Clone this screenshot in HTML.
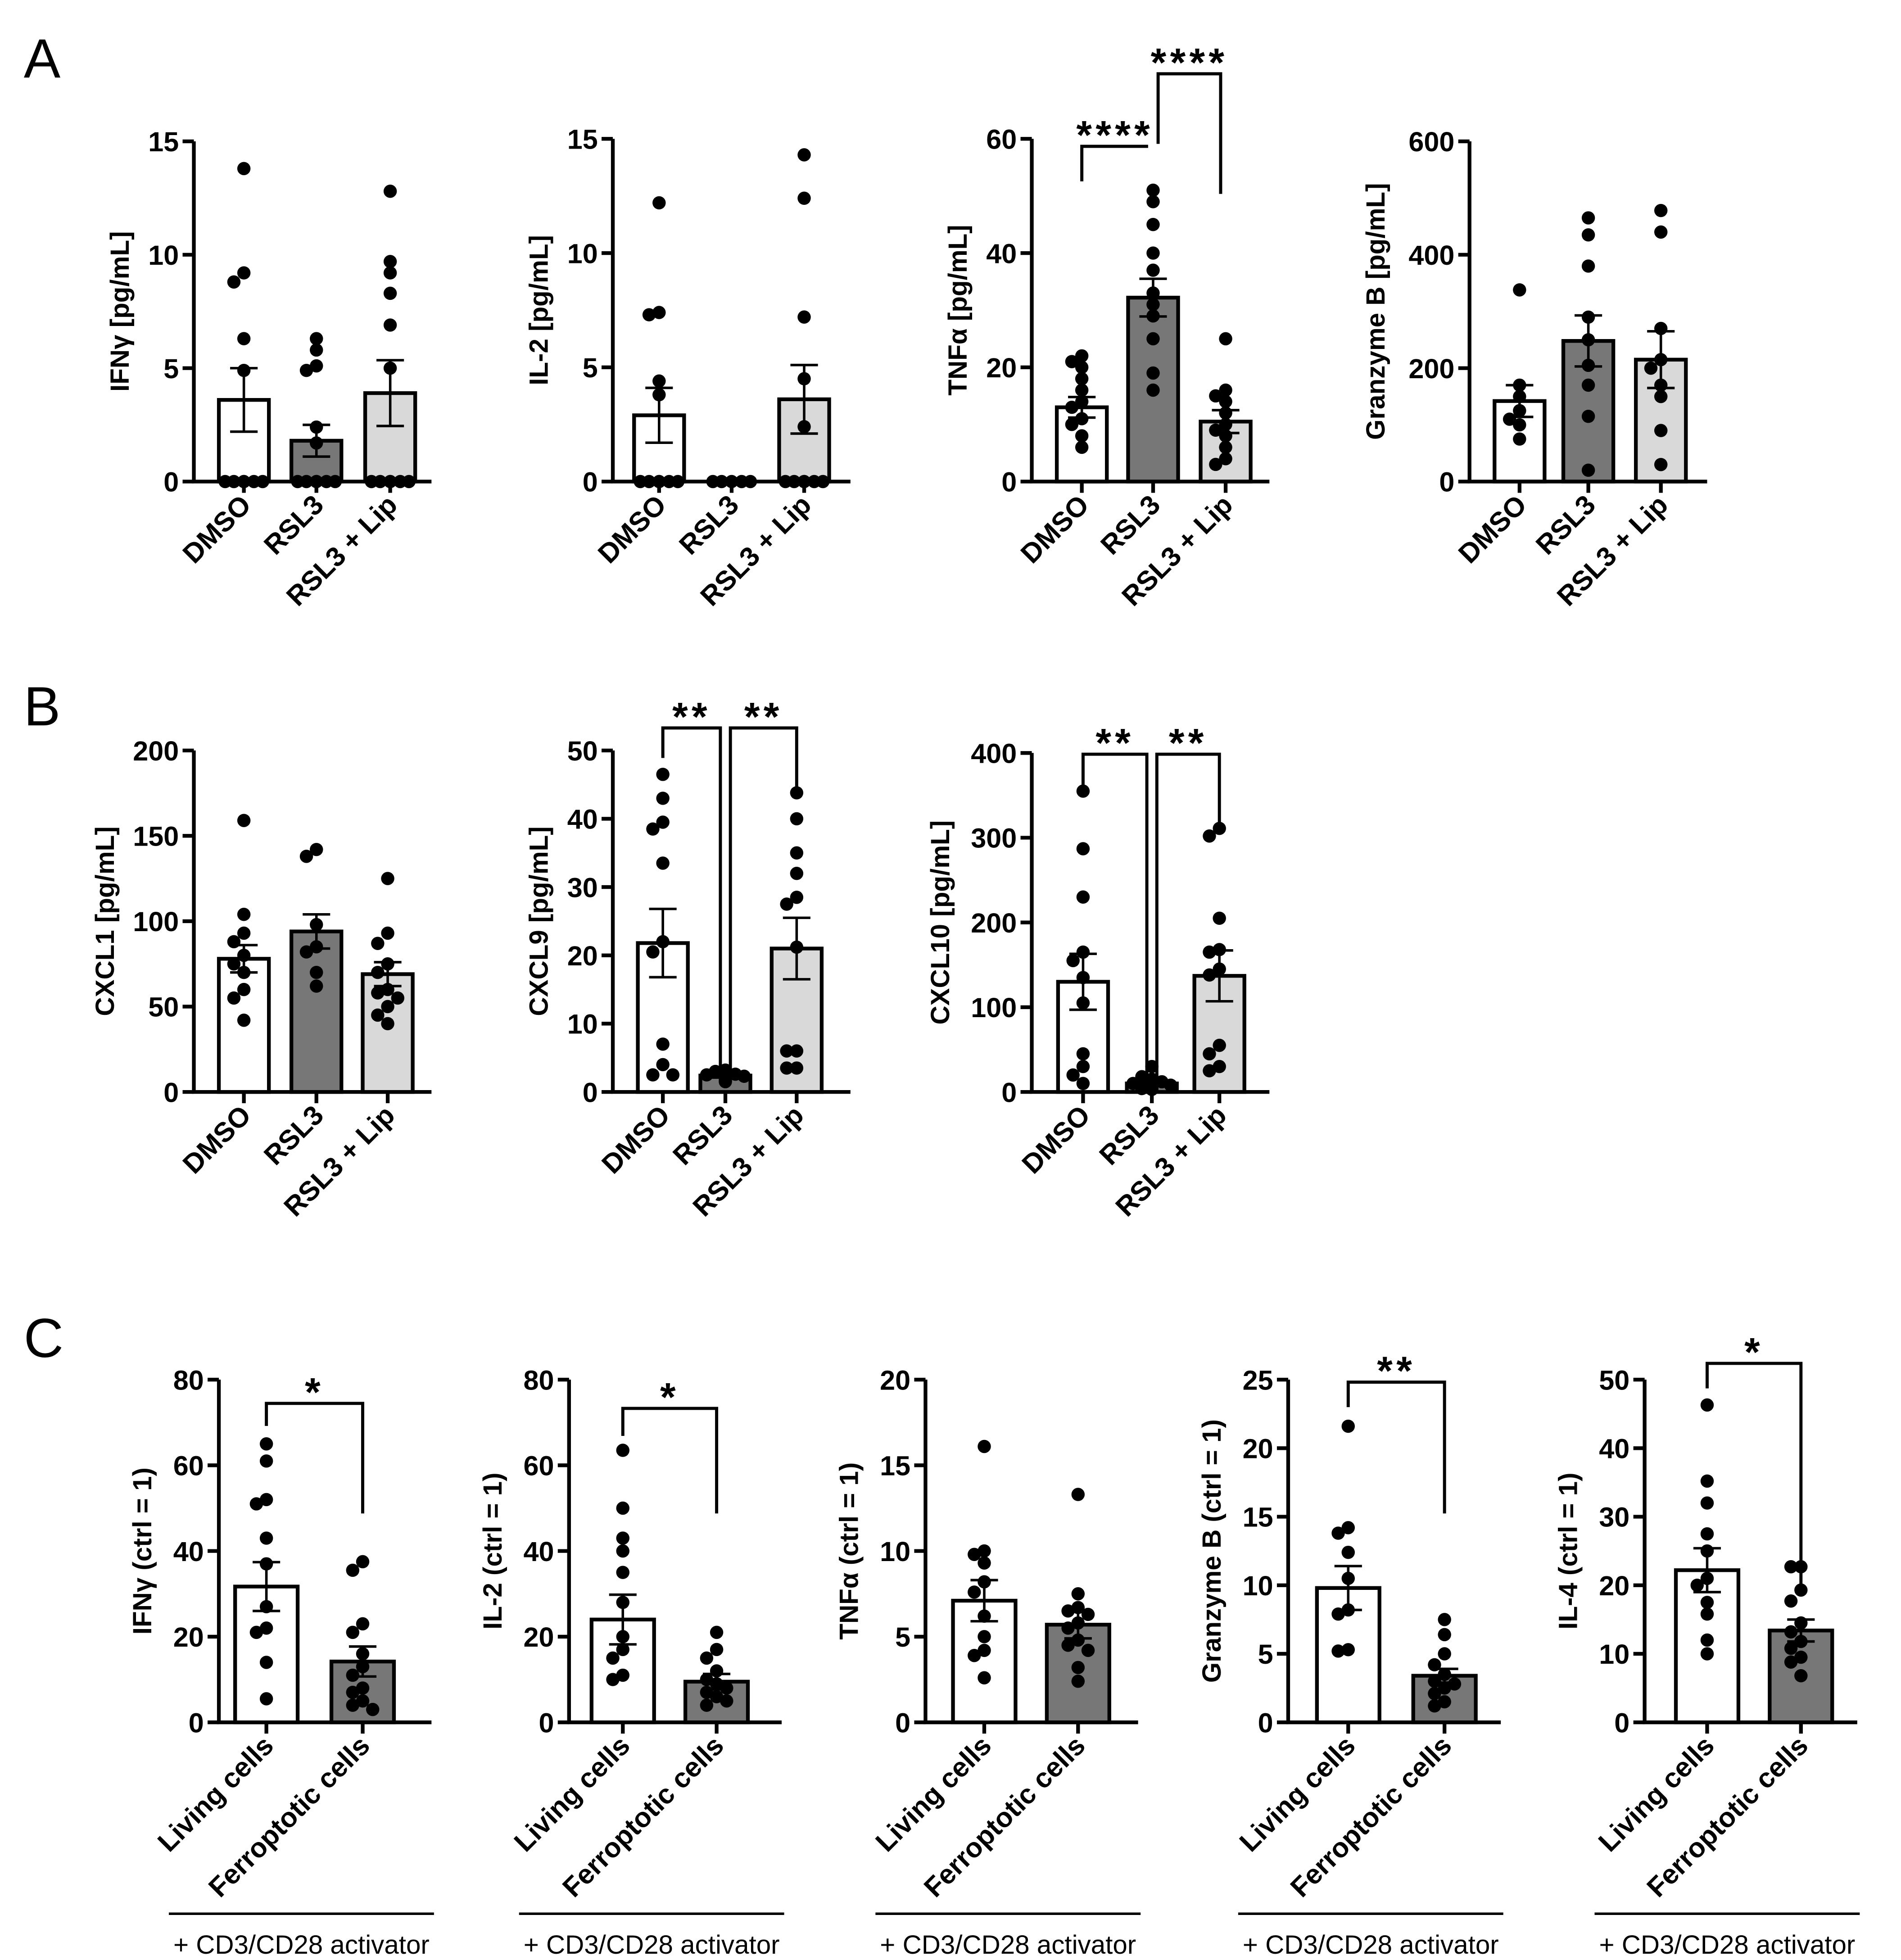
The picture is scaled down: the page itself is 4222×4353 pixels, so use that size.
<!DOCTYPE html>
<html><head><meta charset="utf-8"><style>
html,body{margin:0;padding:0;background:#fff}
svg{display:block}
text{font-family:"Liberation Sans",Arial,sans-serif}
</style></head><body>
<svg id="fig" xmlns="http://www.w3.org/2000/svg" width="4222" height="4353" viewBox="0 0 1520 1567" preserveAspectRatio="none">
<text x="19" y="62" font-size="44">A</text>
<text x="19" y="580" font-size="44">B</text>
<text x="19" y="1085" font-size="44">C</text>
</svg>
<script>
// ---- data ----
const groupsAB = ["DMSO","RSL3","RSL3 + Lip"];
const groupsC = ["Living cells","Ferroptotic cells"];
const a1Ticks=[0,5,10,15], a1Means=[3.6,1.8,3.9], a1Sem=[1.4,0.7,1.45];
const a1Pts=[[13.8,9.2,8.8,6.3,4.9,0,0,0,0,0,0],[6.3,5.8,5.1,4.9,2.4,1.7,0,0,0,0,0,0],[12.8,9.7,9.2,8.3,6.9,5.0,0,0,0,0,0,0]];
const a2Ticks=[0,5,10,15], a2Means=[2.9,0,3.6], a2Sem=[1.2,0,1.5];
const a2Pts=[[12.2,7.4,7.3,4.4,3.8,0,0,0,0,0,0],[0,0,0,0,0],[14.3,12.4,7.2,4.5,2.4,0,0,0,0,0,0]];
const a3Ticks=[0,20,40,60], a3Means=[13,32.2,10.5], a3Sem=[1.8,3.3,2];
const a3Pts=[[22,21,20,18,16,14,13,11,10,8,6],[51,49,45,40,37,33,31,29,25,19,16],[25,16,15,14,12,10,9,8,6,4,3]];
const a4Ticks=[0,200,400,600], a4Means=[142,248,215], a4Sem=[28,45,50];
const a4Pts=[[338,170,150,125,110,100,75],[465,435,380,290,250,205,170,115,20],[478,440,270,215,200,170,150,90,30]];
const b1Ticks=[0,50,100,150,200], b1Means=[78,94,69], b1Sem=[8,10,7];
const b1Pts=[[159,104,93,88,80,75,70,60,55,42],[142,138,98,85,82,70,62],[125,93,87,75,70,60,58,55,50,45,40]];
const b2Ticks=[0,10,20,30,40,50], b2Means=[21.8,2.4,21], b2Sem=[5,0.3,4.5];
const b2Pts=[[46.5,43,39.5,38.5,33.5,22,20.5,7,4,2.5,2.5],[3.2,3,2.6,2.5,2.3,2.2,2,1.8,1.6,1.5],[43.8,40,35,32,28.5,27.5,21.2,6,6,3.5,3.5]];
const b3Ticks=[0,100,200,300,400], b3Means=[130,10,137], b3Sem=[33,3,30];
const b3Pts=[[355,287,230,165,155,135,105,45,30,20,10],[30,18,15,12,10,8,6,5,4,3],[311,302,205,168,165,145,138,55,45,30,25]];
const c1Ticks=[0,20,40,60,80], c1Means=[31.7,14.2], c1Sem=[5.7,3.5];
const c1Pts=[[65,61,52,51,43,37,27,22,21,14,5.5],[37.5,35.5,23,21,16,13,11,8,7,5,4,3]];
const c2Ticks=[0,20,40,60,80], c2Means=[24,9.5], c2Sem=[5.8,1.8];
const c2Pts=[[63.5,50,43,40,35,28,20,17,15,11,10],[21,17,15,12,10,9,8,7,6,5,4]];
const c3Ticks=[0,5,10,15,20], c3Means=[7.1,5.7], c3Sem=[1.2,0.8];
const c3Pts=[[16.1,10,9.8,9.3,8.2,7.6,6.2,5,4.2,3.9,2.6],[13.3,7.5,6.7,6.5,6.3,5.8,5.5,4.8,4.5,4.2,3.2,2.4]];
const c4Ticks=[0,5,10,15,20,25], c4Means=[9.8,3.4], c4Sem=[1.6,0.5];
const c4Pts=[[21.6,14.2,13.8,12.4,10.5,8.2,7.9,5.3,5.2],[7.5,6.4,5,4.2,3.5,3,2.8,2.5,2.1,1.5,1.2]];
const c5Ticks=[0,10,20,30,40,50], c5Means=[22.2,13.4], c5Sem=[3.2,1.6];
const c5Pts=[[46.3,35.2,32,27.5,25,21,20,17.5,15.8,12,10],[22.7,22.7,19.3,17.7,14.5,13.2,11.8,10.8,9.5,8.8,6.8]];

const NS="http://www.w3.org/2000/svg";
const svg=document.getElementById('fig');
function mk(tag,attrs,parent){const e=document.createElementNS(NS,tag);for(const k in attrs)e.setAttribute(k,attrs[k]);(parent||svg).appendChild(e);return e;}
const fillsAB=["#ffffff","#777777","#d9d9d9"], fillsC=["#ffffff","#777777"];

function chart(id,o){
  const g=mk('g',{});
  
  
  const max=o.ticks[o.ticks.length-1];
  const y=v=>o.yb-(v/max)*(o.yb-o.yt);
  o.means.forEach((m,i)=>{
    const cx=o.cx[i];
    const r=mk('rect',{x:cx-o.bw/2,y:y(m),width:o.bw,height:o.yb-y(m),fill:o.fills[i],stroke:'#000','stroke-width':3},g);
    
    
  });
  o.pts.forEach((arr,i)=>{
    const cx=o.cx[i];const used=[];
    arr.forEach(v=>{
      const py=y(v);let dx=0;const offs=[0,-8,8,-15,15,-4,4,-12,12,-18,18];
      for(const d of offs){if(!used.some(u=>Math.abs(u[0]-(cx+d))<7&&Math.abs(u[1]-py)<9)){dx=d;break;}}
      used.push([cx+dx,py]);
      const c=mk('circle',{cx:cx+dx,cy:py,r:5.3,fill:'#000'},g);
      
      
    });
  });
  o.means.forEach((m,i)=>{
    if(o.sem[i]<=0)return;const cx=o.cx[i];
    const e=mk('path',{d:`M${cx},${y(m-o.sem[i])}V${y(m+o.sem[i])}M${cx-11},${y(m+o.sem[i])}h22M${cx-11},${y(m-o.sem[i])}h22`,stroke:'#000','stroke-width':2,fill:'none'},g);
    
    
  });
  const ax=mk('path',{d:`M${o.x0},${o.yt}V${o.yb}H${o.xe}`,stroke:'#000','stroke-width':3,fill:'none'},g);
  
  
  o.ticks.forEach(t=>{
    mk('line',{x1:o.x0-9,x2:o.x0,y1:y(t),y2:y(t),stroke:'#000','stroke-width':3},g);
    const tl=mk('text',{x:o.x0-12,y:y(t)+8,'text-anchor':'end','font-size':22,'font-weight':'bold'},g);
    tl.textContent=t;
    
    
  });
  o.cx.forEach((cx,i)=>{
    mk('line',{x1:cx,x2:cx,y1:o.yb,y2:o.yb+9,stroke:'#000','stroke-width':3},g);
    const lx=cx+7,ly=o.yb+20;
    const xl=mk('text',{x:lx,y:ly,'text-anchor':'end','font-size':22,'font-weight':'bold',transform:`rotate(-45 ${lx} ${ly})`},g);
    xl.textContent=o.groups[i];
    
    
  });
  const yc=(o.yt+o.yb)/2, tx=o.x0-o.tOff;
  const yt=mk('text',{x:tx,y:yc,'text-anchor':'middle','font-size':21,'font-weight':'bold',transform:`rotate(-90 ${tx} ${yc})`},g);
  yt.textContent=o.title;
  
  
  (o.br||[]).forEach(b=>{
    const p=mk('path',{d:`M${b[0]},${b[3]}V${b[2]}H${b[1]}V${b[4]}`,stroke:'#000','stroke-width':2.5,fill:'none'},g);
    
    
    const s=mk('text',{x:(b[0]+b[1])/2,y:b[2]+2,'text-anchor':'middle','font-size':32,'font-weight':'bold','letter-spacing':3},g);
    s.textContent=b[5];
    
    
  });
  if(o.act){
    mk('line',{x1:o.x0-40,x2:o.x0+172,y1:1530,y2:1530,stroke:'#000','stroke-width':2},g);
    const at=mk('text',{x:o.x0+66,y:1562,'text-anchor':'middle','font-size':21},g);
    at.textContent='+ CD3/CD28 activator';
    
    
  }
}
const A={yb:385,bw:40,groups:groupsAB,fills:fillsAB,tOff:52};
chart('ifng-a',{...A,x0:155,xe:345,yt:113,cx:[195,253,312],ticks:a1Ticks,means:a1Means,sem:a1Sem,pts:a1Pts,title:'IFNγ [pg/mL]'});
chart('il2-a',{...A,x0:490,xe:680,yt:111,cx:[527,585,643],ticks:a2Ticks,means:a2Means,sem:a2Sem,pts:a2Pts,title:'IL-2 [pg/mL]'});
chart('tnfa-a',{...A,x0:825,xe:1015,yt:111,cx:[865,922,980],ticks:a3Ticks,means:a3Means,sem:a3Sem,pts:a3Pts,title:'TNFα [pg/mL]',
  br:[[865,918,117,145,117,'****'],[926,976,59,115,155,'****']]});
chart('gzmb-a',{...A,x0:1175,xe:1365,yt:113,cx:[1215,1270,1328],ticks:a4Ticks,means:a4Means,sem:a4Sem,pts:a4Pts,title:'Granzyme B [pg/mL]',tOff:68});
const B={yb:873,bw:40,groups:groupsAB,fills:fillsAB,tOff:64};
chart('cxcl1-b',{...B,x0:155,xe:345,yt:600,cx:[195,253,310],ticks:b1Ticks,means:b1Means,sem:b1Sem,pts:b1Pts,title:'CXCL1 [pg/mL]'});
chart('cxcl9-b',{...B,x0:490,xe:680,yt:600,cx:[530,580,637],ticks:b2Ticks,means:b2Means,sem:b2Sem,pts:b2Pts,title:'CXCL9 [pg/mL]',tOff:52,
  br:[[530,576,582,606,860],[584,637,582,860,630]].map((b,i)=>b.concat(['**']))});
const dummy=0;
chart('cxcl10-b',{...B,x0:825,xe:1015,yt:602,cx:[866,921,975],ticks:b3Ticks,means:b3Means,sem:b3Sem,pts:b3Pts,title:'CXCL10 [pg/mL]',tOff:66,
  br:[[866,917,603,630,868,'**'],[925,975,603,868,665,'**']]});
const C={yb:1377,yt:1103,bw:50,groups:groupsC,fills:fillsC,act:true,tOff:54};
chart('ifng-c',{...C,x0:175,xe:345,cx:[213,290],ticks:c1Ticks,means:c1Means,sem:c1Sem,pts:c1Pts,title:'IFNγ (ctrl = 1)',br:[[213,290,1122,1140,1210,'*']]});
chart('il2-c',{...C,x0:455,xe:625,cx:[498,573],ticks:c2Ticks,means:c2Means,sem:c2Sem,pts:c2Pts,title:'IL-2 (ctrl = 1)',br:[[498,573,1126,1148,1210,'*']]});
chart('tnfa-c',{...C,x0:740,xe:910,cx:[787,862],ticks:c3Ticks,means:c3Means,sem:c3Sem,pts:c3Pts,title:'TNFα (ctrl = 1)'});
chart('gzmb-c',{...C,x0:1030,xe:1200,cx:[1078,1155],ticks:c4Ticks,means:c4Means,sem:c4Sem,pts:c4Pts,title:'Granzyme B (ctrl = 1)',br:[[1078,1155,1105,1125,1210,'**']]});
chart('il4-c',{...C,x0:1315,xe:1485,cx:[1365,1440],ticks:c5Ticks,means:c5Means,sem:c5Sem,pts:c5Pts,title:'IL-4 (ctrl = 1)',br:[[1365,1440,1090,1110,1270,'*']]});
</script>
</body></html>
